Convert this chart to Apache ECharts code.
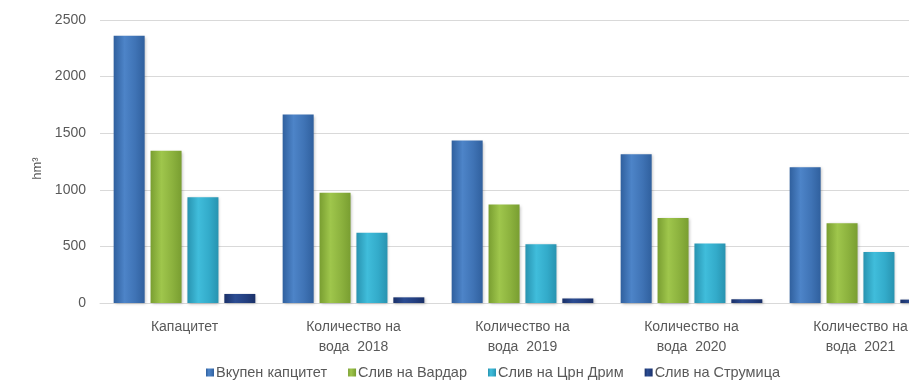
<!DOCTYPE html>
<html><head><meta charset="utf-8">
<script src="https://cdn.jsdelivr.net/npm/echarts@6/dist/echarts.min.js"></script>
<style>html,body{margin:0;padding:0;background:#fff}#c{width:909px;height:389px}</style>
</head><body><div id="c"></div>
<script>
const categories = ['Капацитет', 'Количество на\nвода  2018', 'Количество на\nвода  2019', 'Количество на\nвода  2020', 'Количество на\nвода  2021'];
const seriesNames = ['Вкупен капцитет', 'Слив на Вардар', 'Слив на Црн Дрим', 'Слив на Струмица'];
const vkupen = [2360, 1665, 1435, 1315, 1200];
const vardar = [1345, 975, 870, 750, 705];
const crnDrim = [935, 620, 520, 525, 450];
const strumica = [80, 50, 40, 33, 30];
const yTicks = [0, 500, 1000, 1500, 2000, 2500];

const FONT = '"Liberation Sans", sans-serif';
function grad(light, mid, dark) {
  return new echarts.graphic.LinearGradient(0, 0, 1, 0, [
    {offset: 0, color: dark}, {offset: 0.35, color: light}, {offset: 0.7, color: mid}, {offset: 1, color: dark}
  ]);
}
const colors = [
  grad('#4d84c8', '#3f73b5', '#30609e'),
  grad('#9fc64c', '#8cb23e', '#799e31'),
  grad('#40bddb', '#33abca', '#2893b0'),
  grad('#2b4c92', '#233f80', '#1a3068')
];
const legendColors = ['#3d72b8', '#8db33f', '#33acc9', '#223d7d'];
const dataSets = [vkupen, vardar, crnDrim, strumica];

const chart = echarts.init(document.getElementById('c'));
chart.setOption({
  animation: false,
  color: legendColors,
  textStyle: {fontFamily: FONT},
  legend: {
    bottom: 4, left: 201,
    itemWidth: 8, itemHeight: 8, itemGap: 21,
    icon: 'rect',
    textStyle: {fontFamily: FONT, fontSize: 14.5, color: '#595959', padding: [0, 0, 0, -3]},
    data: seriesNames
  },
  grid: {left: 100, top: 20, bottom: 86, width: 845, outerBoundsMode: 'none', containLabel: false},
  xAxis: {
    type: 'category', data: categories,
    axisLine: {show: true, lineStyle: {color: '#d9d9d9', width: 1}},
    axisTick: {show: false},
    axisLabel: {fontFamily: FONT, fontSize: 14, color: '#595959', margin: 14, lineHeight: 20, interval: 0}
  },
  yAxis: {
    type: 'value', min: 0, max: 2500, interval: 500,
    name: 'hm³', nameLocation: 'middle', nameGap: 46, nameRotate: 90,
    nameTextStyle: {fontFamily: FONT, fontSize: 13, color: '#595959', padding: [0, 14, 0, 0]},
    axisLine: {show: false}, axisTick: {show: false},
    axisLabel: {fontFamily: FONT, fontSize: 14, color: '#595959', margin: 14,
      formatter: v => yTicks.includes(v) ? String(v) : ''},
    splitLine: {lineStyle: {color: '#d9d9d9', width: 1}}
  },
  series: seriesNames.map((n, i) => ({
    name: n, type: 'bar', data: dataSets[i],
    barWidth: 31, barGap: '19%',
    itemStyle: {color: colors[i], shadowBlur: 3, shadowColor: 'rgba(0,0,0,0.25)', shadowOffsetX: 1, shadowOffsetY: 1}
  }))
});
</script></body></html>
